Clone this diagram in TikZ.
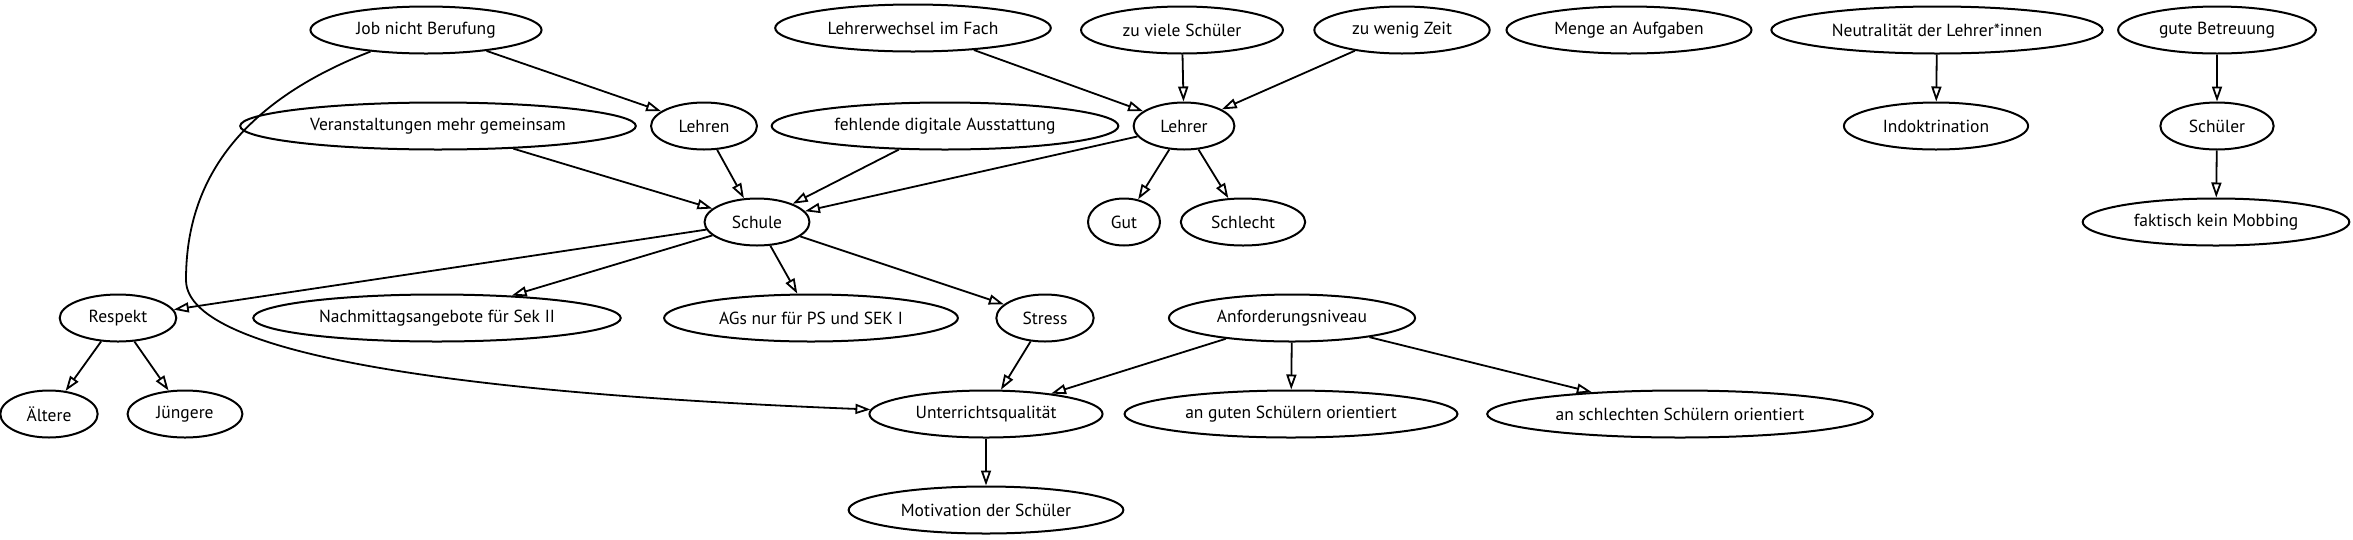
\documentclass[tikz,border=0pt]{standalone}
\usepackage{fontspec}
\setmainfont{PT Sans}
\usetikzlibrary{arrows.meta,shapes.geometric}

\begin{document}
\begin{tikzpicture}[x=1pt,y=-1pt,
    bubble/.style={draw,ellipse,line width=2pt,inner xsep=12pt,inner ysep=3pt,
                   minimum width=72pt,minimum height=47pt,font=\fontsize{17.5}{20}\selectfont},
    link/.style={line width=1.8pt,-{Triangle[open,length=15pt,width=10pt]}}]
  \useasboundingbox (0,0) rectangle (2353,539);
   % first row
   \draw (426,30) node[bubble] (job) {Job nicht Berufung};
   \draw (913,28) node[bubble] (wechsel) {Lehrerwechsel im Fach};
   \draw (1182,30) node[bubble] (viele) {zu viele Schüler};
   \draw (1402,30) node[bubble] (wenig) {zu wenig Zeit};
   \draw (1629,30) node[bubble] (menge) {Menge an Aufgaben};
   \draw (1937,30) node[bubble] (neutral) {Neutralität der Lehrer*innen};
   \draw (2217,30) node[bubble] (betreuung) {gute Betreuung};
   % second row
   \draw (438,126) node[bubble] (veranst) {Veranstaltungen mehr gemeinsam};
     \draw (704,126) node[bubble] (lehren) {Lehren};
   \draw (945,126) node[bubble] (digital) {fehlende digitale Ausstattung};
     \draw (1184,126) node[bubble] (lehrer) {Lehrer};
   \draw (1936,126) node[bubble] (indok) {Indoktrination};
     \draw (2217,126) node[bubble] (schueler) {Schüler};
   % third row
   \draw (757,222) node[bubble] (schule) {Schule};
     \draw (1124,222) node[bubble] (gut) {Gut};
     \draw (1243,222) node[bubble] (schlecht) {Schlecht};
   \draw (2216,222) node[bubble] (mobbing) {faktisch kein Mobbing};
   % fourth row
   \draw (118,318) node[bubble] (respekt) {Respekt};
   \draw (437,318) node[bubble] (nachmittag) {Nachmittagsangebote für Sek II};
   \draw (811,318) node[bubble] (ags) {AGs nur für PS und SEK I};
     \draw (1045,318) node[bubble] (stress) {Stress};
   \draw (1292,318) node[bubble] (anford) {Anforderungsniveau};
   % fifth row
     \draw (49,414) node[bubble] (aeltere) {Ältere};
     \draw (185,414) node[bubble] (juengere) {Jüngere};
   \draw (986,414) node[bubble] (unterricht) {Unterrichtsqualität};
   \draw (1291,414) node[bubble] (guten) {an guten Schülern orientiert};
   \draw (1680,414) node[bubble] (schlechten) {an schlechten Schülern orientiert};
   % last row
   \draw (986,510) node[bubble] (motivation) {Motivation der Schüler};

   \coordinate (bend) at (186,280);

       \path[link] (job) edge (lehren);
       \draw[link] (job) .. controls (220,110) and (186,200) .. (bend)
                         .. controls (186,360) and (500,395) .. (unterricht);
       \path[link] (wechsel) edge (lehrer);
       \path[link] (viele) edge (lehrer);
       \path[link] (wenig) edge (lehrer);
       \path[link] (neutral) edge (indok);
       \path[link] (betreuung) edge (schueler);
       \path[link] (schueler) edge (mobbing);
       \path[link] (veranst) edge (schule);
       \path[link] (lehren) edge (schule);
       \path[link] (digital) edge (schule);
       \path[link] (lehrer) edge (schule);
       \path[link] (lehrer) edge (gut);
       \path[link] (lehrer) edge (schlecht);
       \path[link] (schule) edge (respekt);
       \path[link] (schule) edge (nachmittag);
       \path[link] (schule) edge (ags);
       \path[link] (schule) edge (stress);
       \path[link] (respekt) edge (aeltere);
       \path[link] (respekt) edge (juengere);
       \path[link] (stress) edge (unterricht);
       \path[link] (anford) edge (unterricht);
       \path[link] (anford) edge (guten);
       \path[link] (anford) edge (schlechten);
       \path[link] (unterricht) edge (motivation);

\end{tikzpicture}
\end{document}
